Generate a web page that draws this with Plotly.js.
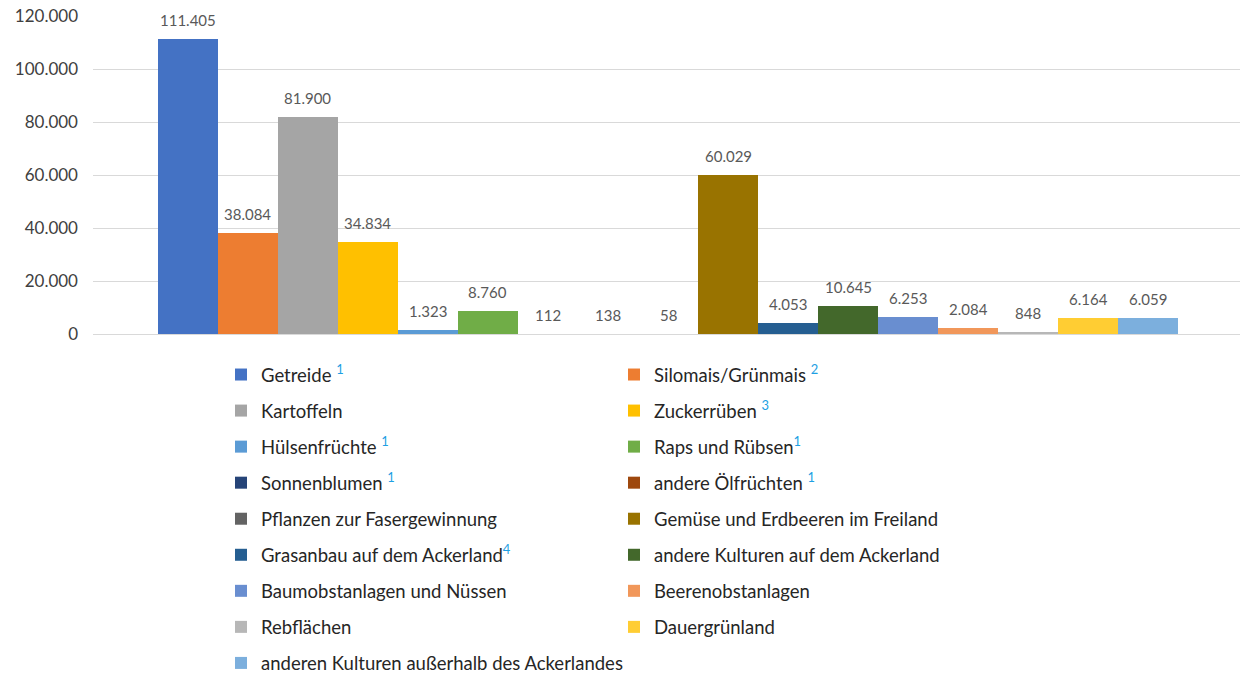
<!DOCTYPE html>
<html>
<head>
<meta charset="utf-8">
<script src="https://cdn.plot.ly/plotly-3.0.1.min.js"></script>
<style>html,body{margin:0;padding:0;background:#fff;}#chart{width:1240px;height:674px;}</style>
</head>
<body>
<div id="chart"></div>
<script>
const categories = [
  "Getreide", "Silomais/Grünmais", "Kartoffeln", "Zuckerrüben", "Hülsenfrüchte",
  "Raps und Rübsen", "Sonnenblumen", "andere Ölfrüchten", "Pflanzen zur Fasergewinnung",
  "Gemüse und Erdbeeren im Freiland", "Grasanbau auf dem Ackerland", "andere Kulturen auf dem Ackerland",
  "Baumobstanlagen und Nüssen", "Beerenobstanlagen", "Rebflächen", "Dauergrünland",
  "anderen Kulturen außerhalb des Ackerlandes"
];
const footnotes = ["1", "2", "", "3", "1", "1", "1", "1", "", "", "4", "", "", "", "", "", ""];
const footnoteSpace = [true, true, false, true, true, false, true, true, false, false, false, false, false, false, false, false, false];
const values = [111405, 38084, 81900, 34834, 1323, 8760, 112, 138, 58, 60029, 4053, 10645, 6253, 2084, 848, 6164, 6059];
const colors = [
  "#4472C4", "#ED7D31", "#A5A5A5", "#FFC000", "#5B9BD5", "#70AD47", "#264478", "#9E480E",
  "#636363", "#997300", "#255E91", "#43682B", "#698ED0", "#F1975A", "#B7B7B7", "#FFCD33", "#7CAFDD"
];
const yTicks = [0, 20000, 40000, 60000, 80000, 100000, 120000];

function fmt(v) {
  return String(v).replace(/\B(?=(\d{3})+(?!\d))/g, ".");
}

const FONT = "Lato, 'Open Sans', sans-serif";

const traces = categories.map((c, i) => {
  let name = c;
  if (footnotes[i]) {
    name += (footnoteSpace[i] ? " " : "") + '<span style="color:#1E9FE3"><sup>' + footnotes[i] + '</sup></span>';
  }
  return {
    type: "bar",
    x: [c],
    y: [values[i]],
    name: name,
    legendgroup: "g" + i,
    legend: (i % 2 === 0) ? "legend" : "legend2",
    marker: { color: colors[i], line: { width: 0 } },
    hoverinfo: "name+y"
  };
});

const annotations = categories.map((c, i) => ({
  x: c, y: values[i], xref: "x", yref: "y",
  text: fmt(values[i]), showarrow: false,
  yanchor: "bottom", yshift: 8,
  font: { family: FONT, size: 15, color: "#595959" }
}));

const PLOT_L = 93, PLOT_W = 1147, PLOT_B = 334, PLOT_H = 318;
const legendCommon = {
  orientation: "v",
  xref: "paper", yref: "paper",
  yanchor: "top", xanchor: "left",
  font: { family: FONT, size: 18.5, color: "#262626" },
  tracegroupgap: 9,
  bgcolor: "rgba(0,0,0,0)",
  traceorder: "grouped"
};

const layout = {
  width: 1240, height: 674,
  margin: { l: 93, r: 0, t: 16, b: 340, autoexpand: false },
  paper_bgcolor: "#fff", plot_bgcolor: "#fff",
  separators: ",.",
  barmode: "overlay",
  bargap: 0,
  showlegend: true,
  xaxis: {
    type: "category",
    range: [-1.58, 17.53],
    showticklabels: false, showgrid: false, zeroline: false, showline: false, ticks: ""
  },
  yaxis: {
    range: [0, 120000],
    tickvals: yTicks,
    tickformat: ",d",
    showgrid: true, gridcolor: "#D9D9D9", gridwidth: 1,
    zeroline: true, zerolinecolor: "#D9D9D9", zerolinewidth: 1,
    showline: false, ticks: "",
    ticklabelstandoff: 14,
    tickfont: { family: FONT, size: 17, color: "#404040" }
  },
  legend: Object.assign({}, legendCommon, { x: (221 - PLOT_L) / PLOT_W, y: (PLOT_B - 356) / PLOT_H }),
  legend2: Object.assign({}, legendCommon, { x: (614 - PLOT_L) / PLOT_W, y: (PLOT_B - 356) / PLOT_H }),
  annotations: annotations
};

Plotly.newPlot("chart", traces, layout, { displayModeBar: false, staticPlot: true });
</script>
</body>
</html>
